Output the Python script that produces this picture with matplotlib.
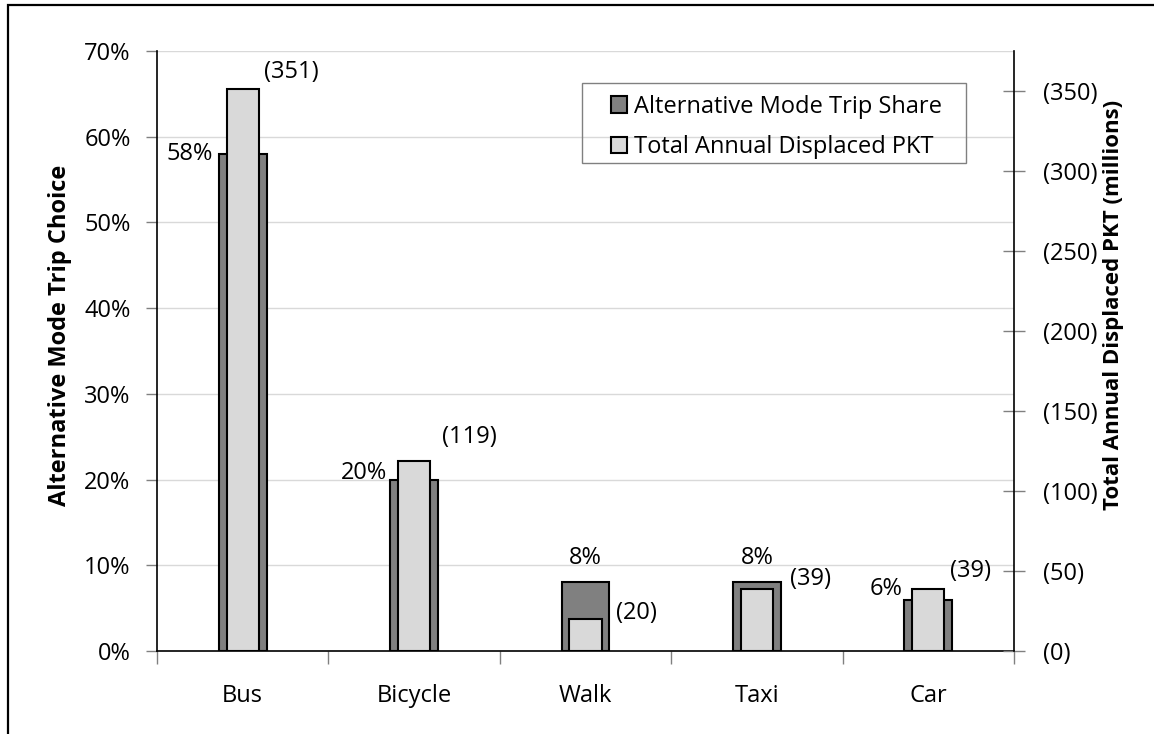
import numpy as np
import matplotlib

matplotlib.use("Agg")
import matplotlib.pyplot as plt
from matplotlib.patches import Patch, Rectangle
from matplotlib.ticker import FuncFormatter, FixedLocator

# ---- data -------------------------------------------------------------------
MODES = ["Bus", "Bicycle", "Walk", "Taxi", "Car"]
TRIP_SHARE_PCT = [58, 20, 8, 8, 6]          # primary axis, %
DISPLACED_PKT = [351, 119, 20, 39, 39]      # secondary axis, millions

SHARE_NAME = "Alternative Mode Trip Share"
PKT_NAME = "Total Annual Displaced PKT"

# ---- style ------------------------------------------------------------------
W, H = 1154, 734
DARK = "#808080"
LIGHT = "#d9d9d9"
GRID = "#d9d9d9"
TICK = "#808080"
FS = 17

# label placement (pixel offsets), picked by eye from the Excel original
# share labels: (ha, dx, dy) relative to dark bar left edge / centre and top
SHARE_LABEL_POS = [("right", -6, 0), ("right", -3, 7), ("center", 0, 24),
                   ("center", 0, 24), ("right", -2, 11)]
# pkt labels: (dx, dy) relative to light bar right edge and top
PKT_LABEL_POS = [(5, 17), (12, 24), (14, 6), (17, 10), (6, 18)]

plt.rcParams.update({
    "font.family": ["Open Sans", "DejaVu Sans"],
    "font.size": FS,
    "text.color": "black",
})

fig = plt.figure(figsize=(W / 100, H / 100), dpi=100)
fig.patch.set_facecolor("white")

L, R, T, B = 157, 1014, 51, 651
ax = fig.add_axes([L / W, 1 - B / H, (R - L) / W, (B - T) / H])
ax2 = ax.twinx()

x = np.arange(len(MODES))
dark_w, light_w = 0.28, 0.187

ax.bar(x, TRIP_SHARE_PCT, dark_w, color=DARK, edgecolor="black",
       linewidth=1.5, zorder=2)
ax2.bar(x, DISPLACED_PKT, light_w, color=LIGHT, edgecolor="black",
        linewidth=1.5, zorder=2)

ax.set_xlim(-0.5, len(MODES) - 0.5)
ax.set_ylim(0, 70)
ax2.set_ylim(0, 375)

ax.set_yticks(np.arange(0, 71, 10))
ax.yaxis.set_major_formatter(FuncFormatter(lambda v, p: f"{v:.0f}%"))
ax2.set_yticks(np.arange(0, 351, 50))
ax2.yaxis.set_major_formatter(FuncFormatter(lambda v, p: f"({v:.0f})"))

# category boundaries carry the tick marks, names sit on minor ticks
ax.xaxis.set_major_locator(FixedLocator(np.arange(-0.5, len(MODES), 1.0)))
ax.xaxis.set_minor_locator(FixedLocator(x))
ax.set_xticklabels([])
ax.set_xticklabels(MODES, minor=True)
ax.tick_params(axis="x", which="major", direction="out", length=9,
               color=TICK, width=1)
ax.tick_params(axis="x", which="minor", length=0, pad=24, labelsize=FS)

ax.tick_params(axis="y", direction="out", length=8, color=TICK, width=1,
               pad=11, labelsize=FS)
ax2.tick_params(axis="y", direction="inout", length=16, color=TICK, width=1,
                pad=13, labelsize=FS)

ax.yaxis.grid(True, color=GRID, linewidth=1)
ax.set_axisbelow(True)

for a in (ax, ax2):
    a.spines["top"].set_visible(False)
ax2.spines["left"].set_visible(False)
ax.spines["right"].set_visible(False)
for s in (ax.spines["left"], ax.spines["bottom"], ax2.spines["right"]):
    s.set_color("black")
    s.set_linewidth(1.2)
ax2.spines["bottom"].set_visible(False)

# data labels
PX = 0.72  # points per pixel at 100 dpi
for i, v in enumerate(TRIP_SHARE_PCT):
    ha, dx, dy = SHARE_LABEL_POS[i]
    xa = x[i] - dark_w / 2 if ha == "right" else x[i]
    ax.annotate(f"{v}%", (xa, v), xytext=(dx * PX, dy * PX),
                textcoords="offset points", ha=ha, va="center", fontsize=FS)
for i, v in enumerate(DISPLACED_PKT):
    dx, dy = PKT_LABEL_POS[i]
    ax2.annotate(f"({v})", (x[i] + light_w / 2, v), xytext=(dx * PX, dy * PX),
                 textcoords="offset points", ha="left", va="center",
                 fontsize=FS)

# axis titles
fig.text(60 / W, 1 - 335 / H, "Alternative Mode Trip Choice", rotation=90,
         ha="center", va="center", fontsize=FS, fontweight="bold")
fig.text(1113 / W, 1 - 305 / H, "Total Annual Displaced PKT (millions)",
         rotation=90, ha="center", va="center", fontsize=16,
         fontweight="bold")

# legend with an Excel-like square frame
handles = [Patch(facecolor=DARK, edgecolor="black", linewidth=1.5),
           Patch(facecolor=LIGHT, edgecolor="black", linewidth=1.5)]
leg = fig.legend(handles, [SHARE_NAME, PKT_NAME], loc="upper left",
                 bbox_to_anchor=(592 / W, 1 - 76 / H), frameon=False,
                 fontsize=FS, handlelength=0.7, handleheight=0.7,
                 handletextpad=0.3, labelspacing=0.7, borderpad=0.3)
fig.add_artist(Rectangle((582 / W, 1 - 163 / H), (966 - 582) / W, 80 / H,
                         transform=fig.transFigure, fill=False,
                         edgecolor=DARK, linewidth=1))

# outer chart border (right and bottom edges fall outside the crop)
fig.add_artist(Rectangle((8 / W, -0.1), 1.2, 1 - 5 / H + 0.1,
                         transform=fig.transFigure, fill=False,
                         edgecolor="black", linewidth=1.6))

fig.savefig("out.png", dpi=100)
